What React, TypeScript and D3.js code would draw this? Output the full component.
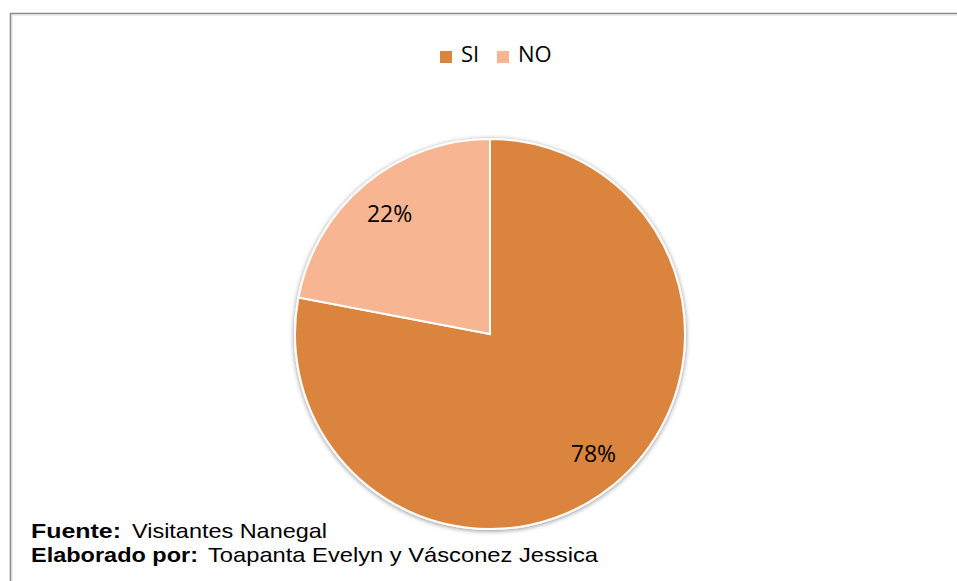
import React from "react";
import * as d3 from "d3";

const categories: string[] = ["SI", "NO"];
const values: number[] = [78, 22];
const colors: string[] = ["#DA843E", "#F8B591"];
const sourceLabel = "Fuente:";
const sourceText = "Visitantes Nanegal";
const authorLabel = "Elaborado por:";
const authorText = "Toapanta Evelyn y Vásconez Jessica";

const W = 957;
const H = 581;
const cx = 490;
const cy = 334;
const R = 195;

export default function App() {
  const data = categories.map((c, i) => ({ name: c, value: values[i], color: colors[i] }));
  const pie = d3.pie<any>().sort(null).value((d: any) => d.value).startAngle(0).endAngle(2 * Math.PI);
  const arcs = pie(data);
  const arc = d3.arc<any>().innerRadius(0).outerRadius(R);
  const labelArc = d3.arc<any>().innerRadius(R * 0.8).outerRadius(R * 0.8);
  const total = d3.sum(values);

  const legendX = d3.scaleOrdinal<string, number>().domain(categories).range([440, 497]);

  return (
    <svg
      width={W}
      height={H}
      viewBox={`0 0 ${W} ${H}`}
      style={{ position: "absolute", left: 0, top: 0, background: "#fff" }}
    >
      <defs>
        <filter id="sh" x="-20%" y="-20%" width="140%" height="140%">
          <feGaussianBlur in="SourceAlpha" stdDeviation="2.5" />
          <feOffset dx="0" dy="1" result="b" />
          <feComponentTransfer>
            <feFuncA type="linear" slope="0.45" />
          </feComponentTransfer>
          <feMerge>
            <feMergeNode />
            <feMergeNode in="SourceGraphic" />
          </feMerge>
        </filter>
      </defs>
      <rect x={0} y={0} width={W} height={H} fill="#fff" />
      {/* frame */}
      <line x1={10} y1={13.5} x2={W} y2={13.5} stroke="#8a8a8a" strokeWidth={1.6} />
      <line x1={10} y1={15} x2={W} y2={15} stroke="#dcdcdc" strokeWidth={1} />
      <line x1={10.5} y1={13} x2={10.5} y2={H} stroke="#8a8a8a" strokeWidth={1.6} />
      <line x1={12} y1={15} x2={12} y2={H} stroke="#dcdcdc" strokeWidth={1} />

      {/* legend */}
      {categories.map((c, i) => (
        <g key={c} transform={`translate(${legendX(c)},0)`}>
          <rect x={0} y={51} width={12} height={12} fill={colors[i]} />
          <text
            x={21}
            y={62}
            fontFamily="'Open Sans', sans-serif"
            fontSize={22}
            fill="#000"
          >
            {c}
          </text>
        </g>
      ))}

      {/* pie */}
      <g transform={`translate(${cx},${cy})`}>
        <g filter="url(#sh)">
          {arcs.map((a, i) => (
            <path key={i} d={arc(a) as string} fill={a.data.color} stroke="#fff" strokeWidth={2} />
          ))}
        </g>
        {arcs.map((a, i) => {
          const [x, y] = labelArc.centroid(a);
          return (
            <text
              key={"l" + i}
              x={x + (i === 0 ? 4 : -1)}
              y={y}
              dy="0.35em"
              textAnchor="middle"
              fontFamily="'Open Sans', sans-serif"
              fontSize={23}
              fill="#000"
            >
              {Math.round((a.data.value / total) * 100) + "%"}
            </text>
          );
        })}
      </g>

      {/* footer */}
      <g fontFamily="'Liberation Sans', Arial, sans-serif" fontSize={21} fill="#000">
        <text x={31} y={538} fontWeight="bold" textLength={90} lengthAdjust="spacingAndGlyphs">
          {sourceLabel}
        </text>
        <text x={132} y={538} textLength={195} lengthAdjust="spacingAndGlyphs">
          {sourceText}
        </text>
        <text x={31} y={562} fontWeight="bold" textLength={167} lengthAdjust="spacingAndGlyphs">
          {authorLabel}
        </text>
        <text x={208} y={562} textLength={390} lengthAdjust="spacingAndGlyphs">
          {authorText}
        </text>
      </g>
    </svg>
  );
}
